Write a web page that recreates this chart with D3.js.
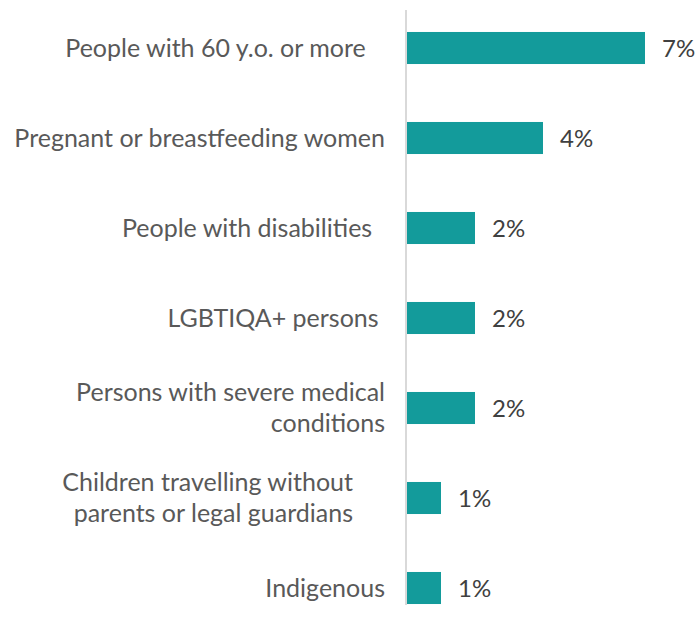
<!DOCTYPE html>
<html>
<head>
<meta charset="utf-8">
<script src="https://cdn.jsdelivr.net/npm/d3@7.9.0/dist/d3.min.js"></script>
<style>
  body { margin: 0; background: #fff; }
  text { font-family: Lato, "Open Sans", sans-serif; white-space: pre; }
</style>
</head>
<body>
<svg id="chart" width="697" height="622"></svg>
<script>
// label lines (trailing spaces kept as in the source chart)
const categories = [
  ['People with 60 y.o. or more   '],
  ['Pregnant or breastfeeding women'],
  ['People with disabilities  '],
  ['LGBTIQA+ persons '],
  ['Persons with severe medical', 'conditions'],
  ['Children travelling without     ', 'parents or legal guardians     '],
  ['Indigenous']
];
const values = [7, 4, 2, 2, 2, 1, 1];

const svg = d3.select('#chart');
const axisX = 406;

const y = d3.scaleBand()
  .domain(d3.range(categories.length))
  .range([3, 633])
  .paddingInner(0.644)
  .paddingOuter(0.322);

const x = d3.scaleLinear().domain([0, 7]).range([axisX + 1, 645]);

svg.selectAll('rect.bar')
  .data(values)
  .join('rect')
  .attr('class', 'bar')
  .attr('x', x(0))
  .attr('y', (d, i) => y(i))
  .attr('width', d => x(d) - x(0))
  .attr('height', y.bandwidth())
  .attr('fill', '#139b9b');

svg.append('line')
  .attr('x1', axisX).attr('x2', axisX)
  .attr('y1', 10).attr('y2', 605)
  .attr('stroke', '#d9d9d9')
  .attr('stroke-width', 2);

const lineH = 31.6;
const labels = svg.selectAll('text.cat')
  .data(categories)
  .join('text')
  .attr('class', 'cat')
  .attr('text-anchor', 'end')
  .attr('font-size', 25)
  .attr('fill', '#595959');

labels.each(function (lines, i) {
  const c = y(i) + y.bandwidth() / 2;
  d3.select(this).selectAll('tspan')
    .data(lines)
    .join('tspan')
    .attr('x', axisX - 21)
    .attr('y', (d, j) => c + (j - (lines.length - 1) / 2) * lineH + 8.5)
    .text(d => d);
});

svg.selectAll('text.val')
  .data(values)
  .join('text')
  .attr('class', 'val')
  .attr('x', d => x(d) + 17)
  .attr('y', (d, i) => y(i) + y.bandwidth() / 2 + 8.5)
  .attr('font-size', 24)
  .attr('fill', '#404040')
  .text(d => d + '%');
</script>
</body>
</html>
